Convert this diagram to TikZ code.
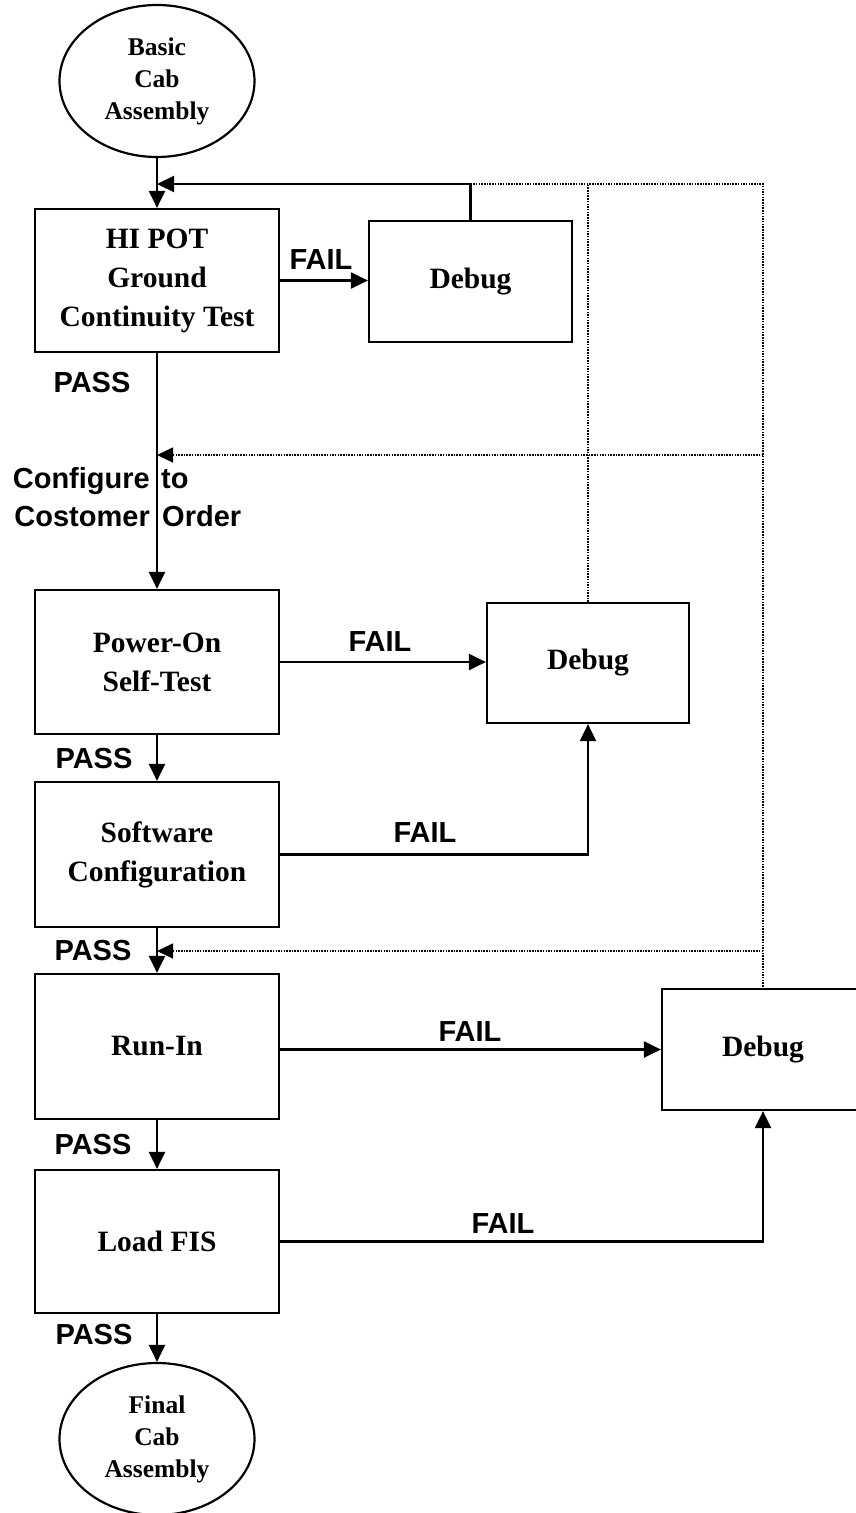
\documentclass[tikz,border=0pt]{standalone}
\usepackage{fontspec}
\setmainfont{Liberation Serif}
\newfontfamily\labfont{Liberation Sans}
\usetikzlibrary{arrows.meta,shapes.geometric}
\begin{document}
\begin{tikzpicture}[x=1pt,y=-1pt,
  box/.style={draw,line width=2.2pt,inner sep=0pt,align=center,font=\bfseries\fontsize{29.5}{39}\selectfont},
  term/.style={draw,ellipse,line width=2.2pt,minimum width=195pt,minimum height=152pt,inner sep=0pt,align=center,font=\bfseries\fontsize{25.5}{32}\selectfont},
  lab/.style={inner sep=0pt,font=\labfont\bfseries\fontsize{29}{35}\selectfont},
  flow/.style={line width=2.2pt,-{Triangle[length=17pt,width=16pt]}},
  dots/.style={line width=1.2pt,dash pattern=on 1.5pt off 1.2pt},
  dotarrow/.style={dots,-{Triangle[length=16pt,width=15pt]}}
]
\useasboundingbox (0,0) rectangle (856,1513);
\clip (0,0) rectangle (856,1513);

% nodes
\node[term] (basic) at (157,81) {Basic\\Cab\\Assembly};
\node[box,minimum width=244pt,minimum height=143pt] (hipot) at (157,280.5) {HI POT\\Ground\\Continuity Test};
\node[box,minimum width=203pt,minimum height=121pt] (dbg1) at (470.5,281.5) {Debug};
\node[box,minimum width=244pt,minimum height=144pt] (power) at (157,662) {Power-On\\Self-Test};
\node[box,minimum width=202pt,minimum height=120pt] (dbg2) at (588,663) {Debug};
\node[box,minimum width=244pt,minimum height=145pt] (soft) at (157,854.5) {Software\\Configuration};
\node[box,minimum width=244pt,minimum height=145pt] (runin) at (157,1046.5) {Run-In};
\node[box,minimum width=202pt,minimum height=121pt] (dbg3) at (763,1049.5) {Debug};
\node[box,minimum width=244pt,minimum height=143pt] (load) at (157,1241.5) {Load FIS};
\node[term] (final) at (157,1439) {Final\\Cab\\Assembly};

% helper coordinates
\coordinate (topR) at (763,184);
\coordinate (midR) at (763,455);
\coordinate (lowR) at (763,951);

% labels
\node[lab] (fail1) at (321,260) {FAIL};
\node[lab] (pass1) at (92,383) {PASS};
\node[lab,anchor=base east] (cfg1) at (150,488) {Configure};
\node[lab,anchor=base west] (cfg2) at (161,488) {to};
\node[lab,anchor=base east] (cfg3) at (150,526) {Costomer};
\node[lab,anchor=base west] (cfg4) at (162,526) {Order};
\node[lab] (fail2) at (380,642) {FAIL};
\node[lab] (pass2) at (94,759) {PASS};
\node[lab] (fail3) at (425,833) {FAIL};
\node[lab] (pass3) at (93,951) {PASS};
\node[lab] (fail4) at (470,1032) {FAIL};
\node[lab] (pass4) at (93,1145) {PASS};
\node[lab] (fail5) at (503,1224) {FAIL};
\node[lab] (pass5) at (94,1334) {PASS};

% main flow
\draw[flow] (basic.south) -- (hipot.north);
\draw[flow] (hipot.south) -- (power.north);
\draw[flow] (power.south) -- (soft.north);
\draw[flow] (soft.south) -- (runin.north);
\draw[flow] (runin.south) -- (load.north);
\draw[flow] (load.south) -- (final.north);

% fail branches
\draw[flow] (hipot.east) -- (hipot.east -| dbg1.west);
\draw[flow] (power.east) -- (power.east -| dbg2.west);
\draw[flow] (soft.east) -| (dbg2.south);
\draw[flow] (runin.east |- dbg3.west) -- (dbg3.west);
\draw[flow] (load.east) -| (dbg3.south);

% return paths
\draw[flow] (dbg1.north) |- (hipot.north |- topR);
\draw[dots] (dbg1.north |- topR) -- (topR) -- (dbg3.north);
\draw[dots] (dbg2.north) -- (dbg2.north |- topR);
\draw[dotarrow] (midR) -- (hipot.south |- midR);
\draw[dotarrow] (lowR) -- (hipot.south |- lowR);
\end{tikzpicture}
\end{document}
